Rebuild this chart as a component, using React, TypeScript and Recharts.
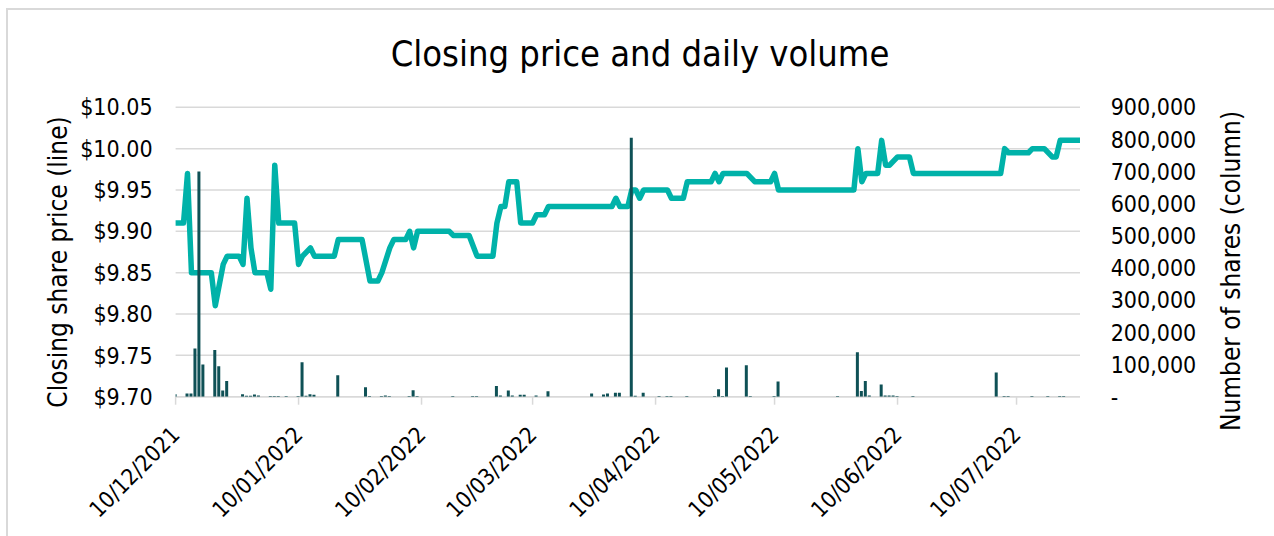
import React from 'react';
import { ComposedChart, Line, Bar, XAxis, YAxis, CartesianGrid } from 'recharts';

// x values are day offsets from 10/12/2021
const tickDays = [0, 31, 62, 90, 121, 151, 182, 212];
const tickLabels = ['10/12/2021', '10/01/2022', '10/02/2022', '10/03/2022', '10/04/2022', '10/05/2022', '10/06/2022', '10/07/2022'];
const lastDay = 228;

const priceDays = [0, 2, 3, 4, 9, 10, 12, 13, 16, 17, 18, 19, 20, 23, 24, 25, 26, 30, 31, 32, 34, 35, 40, 41, 47, 49, 51, 52, 54, 55, 58, 59, 60, 61, 69, 70, 74, 76, 80, 81, 82, 83, 84, 86, 87, 90, 91, 93, 94, 110, 111, 112, 114, 115, 116, 117, 118, 124, 125, 128, 129, 135, 136, 137, 138, 144, 146, 150, 151, 152, 171, 172, 173, 174, 177, 178, 179, 180, 182, 185, 186, 208, 209, 210, 215, 216, 219, 221, 222, 223, 228];
const prices = [9.91, 9.91, 9.97, 9.85, 9.85, 9.81, 9.86, 9.87, 9.87, 9.86, 9.94, 9.88, 9.85, 9.85, 9.83, 9.98, 9.91, 9.91, 9.86, 9.87, 9.88, 9.87, 9.87, 9.89, 9.89, 9.84, 9.84, 9.85, 9.88, 9.89, 9.89, 9.9, 9.88, 9.9, 9.9, 9.895, 9.895, 9.87, 9.87, 9.91, 9.93, 9.93, 9.96, 9.96, 9.91, 9.91, 9.92, 9.92, 9.93, 9.93, 9.94, 9.93, 9.93, 9.95, 9.95, 9.94, 9.95, 9.95, 9.94, 9.94, 9.96, 9.96, 9.97, 9.96, 9.97, 9.97, 9.96, 9.96, 9.97, 9.95, 9.95, 10.0, 9.96, 9.97, 9.97, 10.01, 9.98, 9.98, 9.99, 9.99, 9.97, 9.97, 10.0, 9.995, 9.995, 10.0, 10.0, 9.99, 9.99, 10.01, 10.01];

const volumeDays = [0, 3, 4, 5, 6, 7, 10, 11, 12, 13, 17, 18, 19, 20, 21, 24, 25, 26, 28, 31, 32, 33, 34, 35, 41, 48, 49, 52, 53, 54, 59, 60, 61, 70, 75, 76, 81, 82, 84, 85, 87, 88, 91, 94, 105, 108, 109, 111, 112, 115, 116, 118, 122, 124, 125, 129, 136, 137, 138, 139, 144, 145, 151, 152, 167, 172, 173, 174, 175, 178, 179, 180, 181, 182, 186, 207, 209, 210, 216, 220, 223, 224];
const volumes = [8000, 10000, 10000, 150000, 700000, 100000, 145000, 95000, 19000, 49000, 8000, 3000, 3000, 7000, 4000, 2000, 2000, 2000, 2000, 2000, 107000, 3000, 8000, 6000, 67000, 29000, 2000, 2000, 4000, 2000, 2000, 20000, 2000, 2000, 2000, 2000, 33000, 4000, 19000, 4000, 6000, 6000, 4000, 17000, 10000, 7000, 10000, 12000, 12000, 805000, 3000, 12000, 2000, 2000, 2000, 2000, 2000, 23000, 2000, 91000, 98000, 2000, 2000, 47000, 2000, 138000, 18000, 49000, 4000, 38000, 4000, 4000, 4000, 2000, 2000, 75000, 2000, 2000, 2000, 2000, 2000, 2000];

const priceTicks = [9.7, 9.75, 9.8, 9.85, 9.9, 9.95, 10.0, 10.05];
const volumeTicks = [0, 100000, 200000, 300000, 400000, 500000, 600000, 700000, 800000, 900000];

const allDays = Array.from(new Set([...priceDays, ...volumeDays])).sort((a, b) => a - b);
const data = allDays.map((d) => {
  const pi = priceDays.indexOf(d);
  const vi = volumeDays.indexOf(d);
  return { d, price: pi >= 0 ? prices[pi] : null, volume: vi >= 0 ? volumes[vi] : null };
});

const FONT = "'DejaVu Sans Condensed', 'DejaVu Sans', sans-serif";
const GRID = '#d9d9d9';

const XTick = (props: any) => {
  const { x, y, payload } = props;
  const i = tickDays.indexOf(payload.value);
  return (
    <text
      x={x}
      y={y}
      dy="0.35em"
      textAnchor="end"
      transform={`rotate(-45, ${x}, ${y})`}
      fontSize={22.5}
      fontFamily={FONT}
      fontStretch="condensed"
      fill="#000"
    >
      {i >= 0 ? tickLabels[i] : ''}
    </text>
  );
};

const fmtPrice = (v: number) => '$' + v.toFixed(2);
const fmtVol = (v: number) => (v === 0 ? '-' : v.toLocaleString('en-US'));

export default function App() {
  return (
    <div style={{ position: 'absolute', left: 0, top: 0, width: 1274, height: 536, overflow: 'hidden', background: '#fff' }}>
      <div
        style={{
          position: 'absolute',
          left: 6,
          top: 8,
          width: 1268,
          height: 528,
          borderLeft: `2px solid ${GRID}`,
          borderTop: `2px solid ${GRID}`,
          boxSizing: 'border-box',
        }}
      />
      <div
        style={{
          position: 'absolute',
          left: 10,
          top: 34,
          width: 1260,
          textAlign: 'center',
          fontFamily: FONT,
          fontStretch: 'condensed',
          fontSize: 36,
          lineHeight: '40px',
          color: '#000',
        }}
      >
        Closing price and daily volume
      </div>
      <div style={{ position: 'absolute', left: 0, top: 0 }}>
        <ComposedChart width={1274} height={536} data={data} margin={{ top: 107.3, right: 0, bottom: 0, left: 0 }}>
          <CartesianGrid yAxisId="left" vertical={false} stroke={GRID} strokeWidth={1.5} />
          <XAxis
            dataKey="d"
            type="number"
            domain={[0, lastDay]}
            ticks={tickDays}
            height={139.3}
            axisLine={{ stroke: GRID, strokeWidth: 1.5 }}
            tickLine={{ stroke: GRID, strokeWidth: 1.5 }}
            tickSize={8}
            tickMargin={26}
            tick={<XTick />}
            interval={0}
            allowDataOverflow
          />
          <YAxis
            yAxisId="left"
            orientation="left"
            width={175.6}
            domain={[9.7, 10.05]}
            ticks={priceTicks}
            tickFormatter={fmtPrice}
            axisLine={false}
            tickLine={false}
            tickSize={0}
            tickMargin={23}
            interval={0}
            allowDataOverflow
            tick={{ fill: '#000', fontSize: 23, fontFamily: FONT, fontStretch: 'condensed' }}
            label={{
              value: 'Closing share price (line)',
              angle: -90,
              position: 'center',
              dx: -30,
              dy: 10,
              fill: '#000',
              fontSize: 26,
              fontFamily: FONT,
              fontStretch: 'condensed',
            }}
          />
          <YAxis
            yAxisId="right"
            orientation="right"
            width={194}
            domain={[0, 900000]}
            ticks={volumeTicks}
            tickFormatter={fmtVol}
            axisLine={false}
            tickLine={false}
            tickSize={0}
            tickMargin={30.7}
            interval={0}
            allowDataOverflow
            tick={{ fill: '#000', fontSize: 23, fontFamily: FONT, fontStretch: 'condensed', textAnchor: 'start' }}
            label={{
              value: 'Number of shares (column)',
              angle: -90,
              position: 'center',
              dx: 54,
              dy: 19,
              fill: '#000',
              fontSize: 26,
              fontFamily: FONT,
              fontStretch: 'condensed',
            }}
          />
          <Line
            yAxisId="left"
            dataKey="price"
            type="linear"
            stroke="#00b2a9"
            strokeWidth={5.5}
            strokeLinejoin="round"
            strokeLinecap="round"
            dot={false}
            activeDot={false}
            connectNulls
            isAnimationActive={false}
          />
          <Bar yAxisId="right" dataKey="volume" fill="#0f5156" barSize={3} isAnimationActive={false} zIndex={500} />
        </ComposedChart>
      </div>
    </div>
  );
}
